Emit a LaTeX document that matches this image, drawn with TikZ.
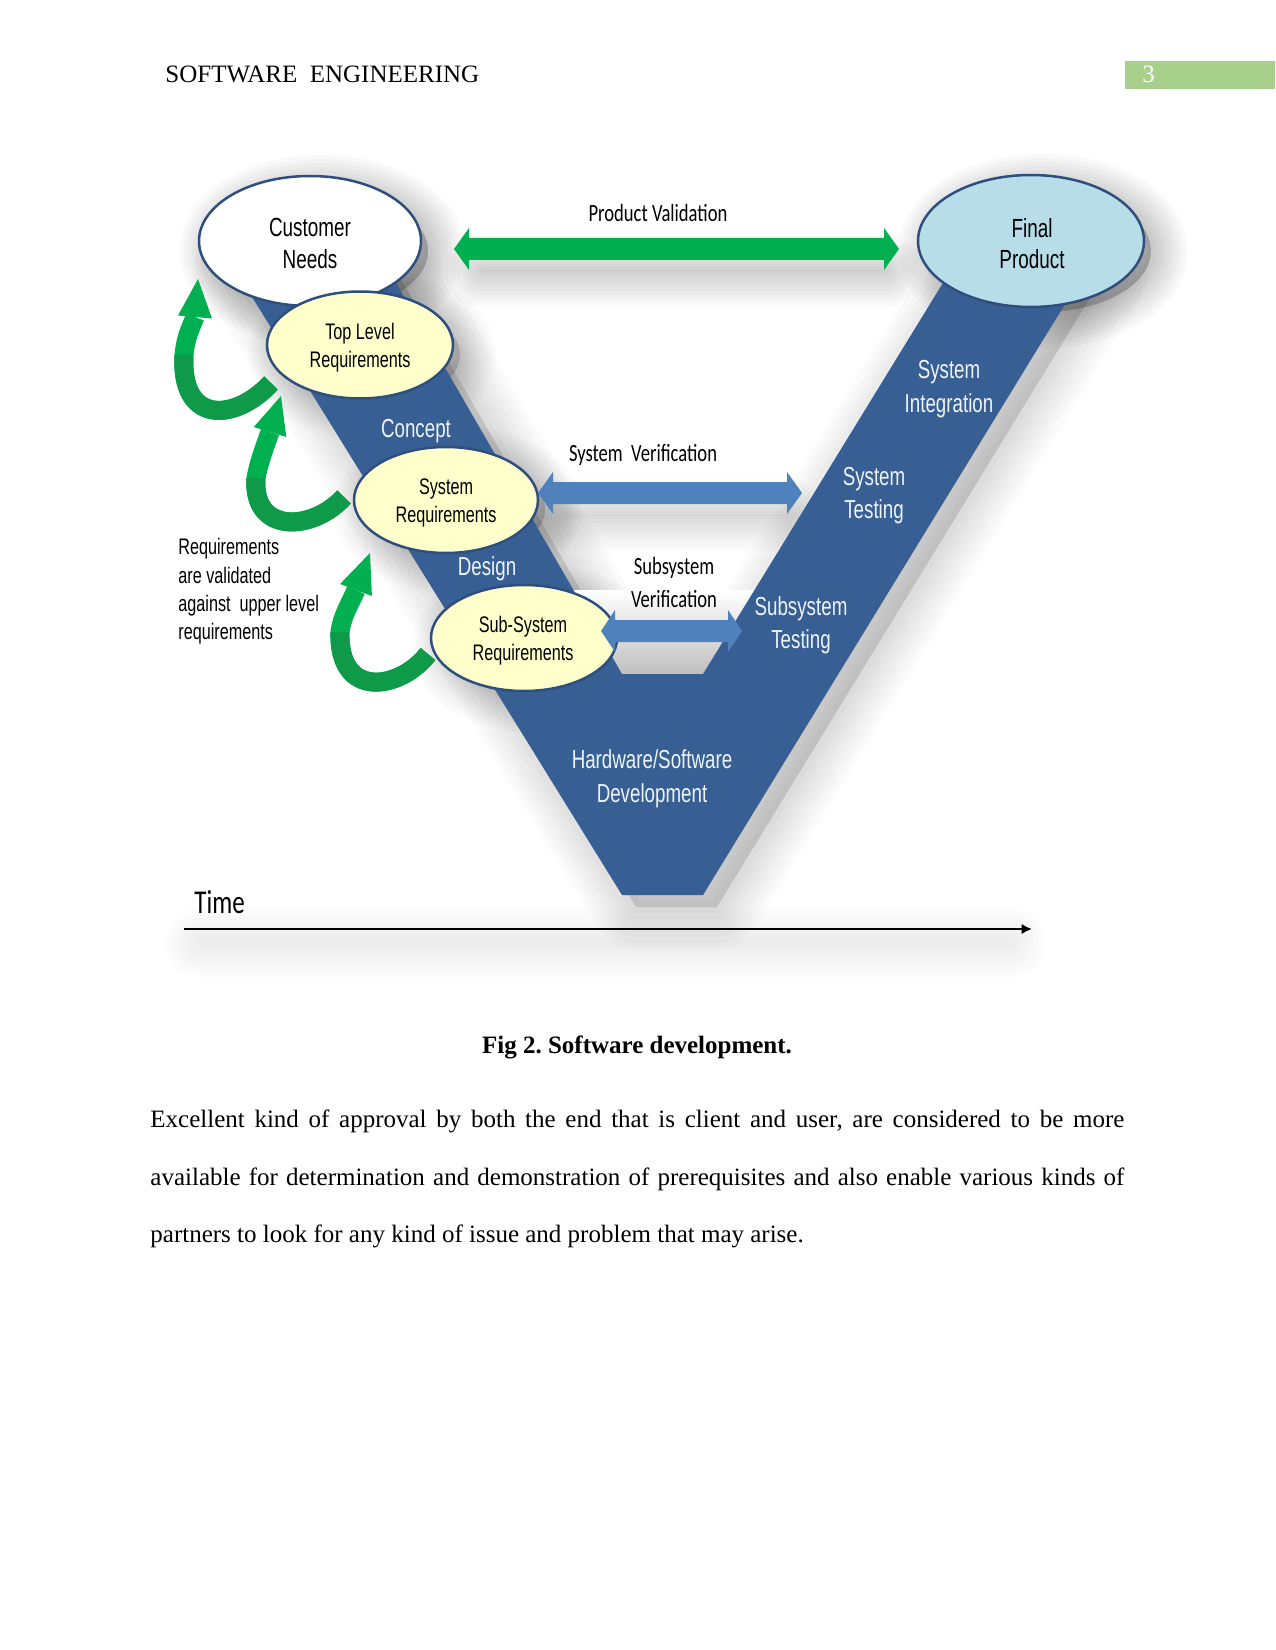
\documentclass[tikz,border=0pt]{standalone}
\usepackage{fontspec}
\setmainfont{Liberation Serif}
\newfontfamily\arialN[FakeStretch=0.72]{Liberation Sans}
\newfontfamily\calN[FakeStretch=0.75]{Carlito}
\usetikzlibrary{shapes.geometric,arrows.meta}
\frenchspacing
\definecolor{vblue}{HTML}{375F93}
\definecolor{eline}{HTML}{2E4F7E}
\definecolor{lyellow}{HTML}{FFFFCC}
\definecolor{lcyan}{HTML}{B7DEE8}
\definecolor{pgreen}{HTML}{00B050}
\definecolor{dgreen}{HTML}{0E9A48}
\definecolor{ablue}{HTML}{4F81BD}
\definecolor{hgreen}{HTML}{A8D08D}
\definecolor{wtext}{HTML}{EEF3FA}
\def\pxu{0.48pt}
\newcommand\softshd[2][0.022]{\foreach \ww in {72,64,56,48,40,32,24,16,8}{\path[fill=black,draw=black,opacity=#1,line width=\ww*0.48pt,line join=round,line cap=round] #2;}}
\newcommand\softring[2][0.02]{\path[fill=black,opacity=0.12] #2;\foreach \ww in {84,72,60,48,36,24,12}{\path[draw=black,opacity=#1,line width=\ww*0.48pt,line join=round] #2;}}
\def\vpath{(223,250) -- (622,895) -- (703,895) -- (1092,260) -- (957,260) -- (703,674) -- (622,674) -- (377,250) -- cycle}
\def\pvpath{(454,249) -- (469,228) -- (469,238) -- (884,238) -- (884,228) -- (899,249) -- (884,270) -- (884,260) -- (469,260) -- (469,270) -- cycle}
\def\svpath{(538,493) -- (553,472) -- (553,482) -- (787,482) -- (787,472) -- (802,493) -- (787,514) -- (787,504) -- (553,504) -- (553,514) -- cycle}
\def\sbpath{(601,631) -- (615,610) -- (615,620) -- (728,620) -- (728,610) -- (742,631) -- (728,652) -- (728,642) -- (615,642) -- (615,652) -- cycle}
\begin{document}
\begin{tikzpicture}[x=0.48pt,y=-0.48pt,
  lbl/.style={inner sep=0pt, anchor=base},
  wl/.style={lbl, text=wtext, font=\arialN\fontsize{12.5}{15}\selectfont},
  el/.style={lbl, font=\arialN\fontsize{10.8}{13}\selectfont},
  bigel/.style={lbl, font=\arialN\fontsize{12.6}{15}\selectfont},
  cl/.style={lbl, font=\calN\fontsize{11.9}{14}\selectfont},
  lefttxt/.style={lbl, anchor=base west, font=\arialN\fontsize{10.8}{13}\selectfont},
  ell/.style={ellipse, draw=eline, line width=1.2pt, inner sep=0pt},
  garrow/.style={line width=19*0.48pt},
  body/.style={inner sep=0pt, anchor=base west, font=\fontsize{12}{14}\selectfont}]
\useasboundingbox (0,0) rectangle (1275,1650);
\fill[white] (0,0) rectangle (1275,1650);

% ---------- shadows
\begin{scope}[shift={(14,12)}]
  \softring{\vpath}
\end{scope}
\begin{scope}[shift={(12,10)}]
  \softshd{(310,241) ellipse [x radius=106*\pxu, y radius=60*\pxu]}
  \softshd{(1031,241) ellipse [x radius=108*\pxu, y radius=61*\pxu]}
  \softshd[0.015]{(360,345) ellipse [x radius=88*\pxu, y radius=49*\pxu]}
  \softshd[0.015]{(446,500) ellipse [x radius=87*\pxu, y radius=48*\pxu]}
  \softshd[0.015]{(524,638) ellipse [x radius=88*\pxu, y radius=48*\pxu]}
\end{scope}
\begin{scope}[shift={(6,22)}]
  \softshd[0.02]{(475,249) -- (880,249)}
  \softshd[0.016]{(560,493) -- (780,493)}
\end{scope}
\begin{scope}[shift={(0,14)}]
  \softshd[0.008]{(200,929) -- (1010,929)}
\end{scope}

% ---------- notch shading
\shade[top color=white, bottom color=gray!50] (573,590) -- (754,590) -- (703,674) -- (622,674) -- cycle;

% ---------- the V
\fill[vblue] \vpath;

\node[wl] (concept) at (416,438) {Concept};
\node[wl] (design) at (487,575) {Design};
\node[wl] (si1) at (949,379) {System};
\node[wl] (si2) at (949,413) {Integration};
\node[wl] (st1) at (874,485) {System};
\node[wl] (st2) at (874,518) {Testing};
\node[wl] (sst1) at (801,615) {Subsystem};
\node[wl] (sst2) at (801,648) {Testing};
\node[wl] (hw1) at (652,768) {Hardware/Software};
\node[wl] (hw2) at (652,802) {Development};

% ---------- ellipses
\node[ell, fill=white, minimum width=222*\pxu, minimum height=130*\pxu] (cn) at (310,241) {};
\node[ell, fill=lcyan, minimum width=226*\pxu, minimum height=132*\pxu] (fp) at (1031,241) {};
\node[ell, fill=lyellow, minimum width=186*\pxu, minimum height=107*\pxu] (tlr) at (360,345) {};
\node[ell, fill=lyellow, minimum width=184*\pxu, minimum height=106*\pxu] (sr) at (446,500) {};
\node[ell, fill=lyellow, minimum width=186*\pxu, minimum height=106*\pxu] (ssr) at (524,638) {};

\node[bigel] (cn1) at (310,237) {Customer};
\node[bigel] (cn2) at (310,269) {Needs};
\node[bigel] (fp1) at (1032,238) {Final};
\node[bigel] (fp2) at (1032,269) {Product};
\node[el] (tlr1) at (360,340) {Top Level};
\node[el] (tlr2) at (360,368) {Requirements};
\node[el] (sr1) at (446,494) {System};
\node[el] (sr2) at (446,522) {Requirements};
\node[el] (ssr1) at (523,632) {Sub-System};
\node[el] (ssr2) at (523,660) {Requirements};

% ---------- block arrows
\fill[pgreen] \pvpath;
\fill[ablue] \svpath;
\fill[ablue] \sbpath;

\node[cl] (pv) at (658,222) {Product Validation};
\node[cl] (sv) at (643,462) {System\ \ Verification};
\node[cl] (sb1) at (674,574) {Subsystem};
\node[cl] (sb2) at (674,607) {Verification};

% ---------- curved green arrows
\coordinate (aT) at (271,383);
\coordinate (aM) at (184,355);
\coordinate (aB) at (195,317);
\draw[garrow, pgreen] (aT) .. controls (235,422) and (180,425) .. (aM) .. controls (186,336) and (190,330) .. (aB);
\draw[garrow, dgreen] (aT) .. controls (235,422) and (180,425) .. (aM);
\fill[pgreen] (212,318.5) -- (198,279) -- (178,315.5) -- cycle;

\coordinate (bT) at (344,497);
\coordinate (bM) at (256,478);
\coordinate (bB) at (270,432);
\draw[garrow, pgreen] (bT) .. controls (312,532) and (252,534) .. (bM) .. controls (259,462) and (264,449) .. (bB);
\draw[garrow, dgreen] (bT) .. controls (312,532) and (252,534) .. (bM);
\fill[pgreen] (286.3,437) -- (281,396) -- (253.8,427) -- cycle;

\coordinate (cT) at (428,654);
\coordinate (cM) at (340,632);
\coordinate (cB) at (356,590);
\draw[garrow, pgreen] (cT) .. controls (400,690) and (338,700) .. (cM) .. controls (342,616) and (350,604) .. (cB);
\draw[garrow, dgreen] (cT) .. controls (400,690) and (338,700) .. (cM);
\fill[pgreen] (371.9,596) -- (370,553) -- (340.1,584) -- cycle;

\node[lefttxt] (rv1) at (178,554) {Requirements};
\node[lefttxt] (rv2) at (178,583) {are validated};
\node[lefttxt] (rv3) at (178,611) {against\ \ upper level};
\node[lefttxt] (rv4) at (178,639) {requirements};

% ---------- time axis
\node[lbl, anchor=base west, font=\calN\fontsize{16}{19}\selectfont] (time) at (194,913) {Time};
\coordinate (t0) at (184,929);
\coordinate (t1) at (1032,929);
\draw[line width=1pt, -{Latex[length=5pt,width=5pt]}] (t0) -- (t1);

% ---------- page furniture
\node[body] (hdr) at (165,83) {SOFTWARE\ \ ENGINEERING};
\fill[hgreen] (1125,61) rectangle (1275,89);
\node[body, text=white] (pg) at (1142,83) {3};
\node[inner sep=0pt, anchor=base, font=\bfseries\fontsize{12}{14}\selectfont] (cap) at (637,1053) {Fig 2. Software development.};
\node[body] (l1) at (150,1127) {\hbox to 467.5pt{Excellent kind of approval by both the end that is client and user, are considered to be more}};
\node[body] (l2) at (150,1185) {\hbox to 467.5pt{available for determination and demonstration of prerequisites and also enable various kinds of}};
\node[body] (l3) at (150,1242) {partners to look for any kind of issue and problem that may arise.};
\end{tikzpicture}
\end{document}
